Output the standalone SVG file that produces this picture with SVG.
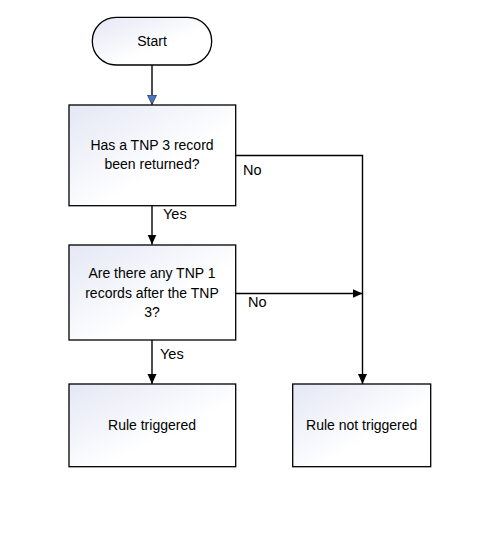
<svg xmlns="http://www.w3.org/2000/svg" width="478" height="546" viewBox="0 0 478 546">
<style>
.n{stroke:#000;stroke-width:1.3;fill:url(#g)}
.t{font-family:"Liberation Sans",Arial,sans-serif;font-size:14px;fill:#000;text-anchor:middle}
.l{font-family:"Liberation Sans",Arial,sans-serif;font-size:14.5px;fill:#000}
.c{stroke:#000;stroke-width:1.4;fill:none}
</style>
<defs>
<linearGradient id="g" x1="0" y1="0" x2="1" y2="1">
<stop offset="0" stop-color="#e4e7f5"/>
<stop offset="0.6" stop-color="#ffffff"/>
</linearGradient>
<marker id="a" markerWidth="11" markerHeight="11" refX="10" refY="5.5" orient="auto" markerUnits="userSpaceOnUse">
<path d="M0,1 L10,5.5 L0,10 Z" fill="#000"/>
</marker>
<marker id="b" markerWidth="11" markerHeight="11" refX="10" refY="5.5" orient="auto" markerUnits="userSpaceOnUse">
<path d="M0.5,1 L10,5.5 L0.5,10 Z" fill="#4a78c8" stroke="#1f2d4d" stroke-width="0.8"/>
</marker>
</defs>
<rect width="478" height="546" fill="#fff"/>
<g id="connectors">
<path class="c" d="M152,65 V104.5" marker-end="url(#b)"/>
<path class="c" d="M152,206 V244.5" marker-end="url(#a)"/>
<path class="c" d="M236,155.5 H362.5 V384" marker-end="url(#a)"/>
<path class="c" d="M236,293.5 H362.5" marker-end="url(#a)"/>
<path class="c" d="M152,340 V384" marker-end="url(#a)"/>
<text class="l" x="243" y="175">No</text>
<text class="l" x="163" y="219">Yes</text>
<text class="l" x="248" y="307">No</text>
<text class="l" x="160" y="359">Yes</text>
</g>
<g id="start">
<rect class="n" x="92.3" y="17.3" width="119.4" height="47.7" rx="23.8"/>
<text class="t" x="152" y="46">Start</text>
</g>
<g id="q1">
<rect class="n" x="69" y="105" width="166.7" height="100.7"/>
<text class="t" x="152" y="150">Has a TNP 3 record</text>
<text class="t" x="152" y="169">been returned?</text>
</g>
<g id="q2">
<rect class="n" x="69" y="245" width="166.7" height="95"/>
<text class="t" x="152" y="278">Are there any TNP 1</text>
<text class="t" x="152" y="297.5">records after the TNP</text>
<text class="t" x="152" y="317">3?</text>
</g>
<g id="r1">
<rect class="n" x="69" y="384" width="166.7" height="82.7"/>
<text class="t" x="152" y="430">Rule triggered</text>
</g>
<g id="r2">
<rect class="n" x="292.7" y="384" width="138" height="82.7"/>
<text class="t" x="361.7" y="430">Rule not triggered</text>
</g>
</svg>
